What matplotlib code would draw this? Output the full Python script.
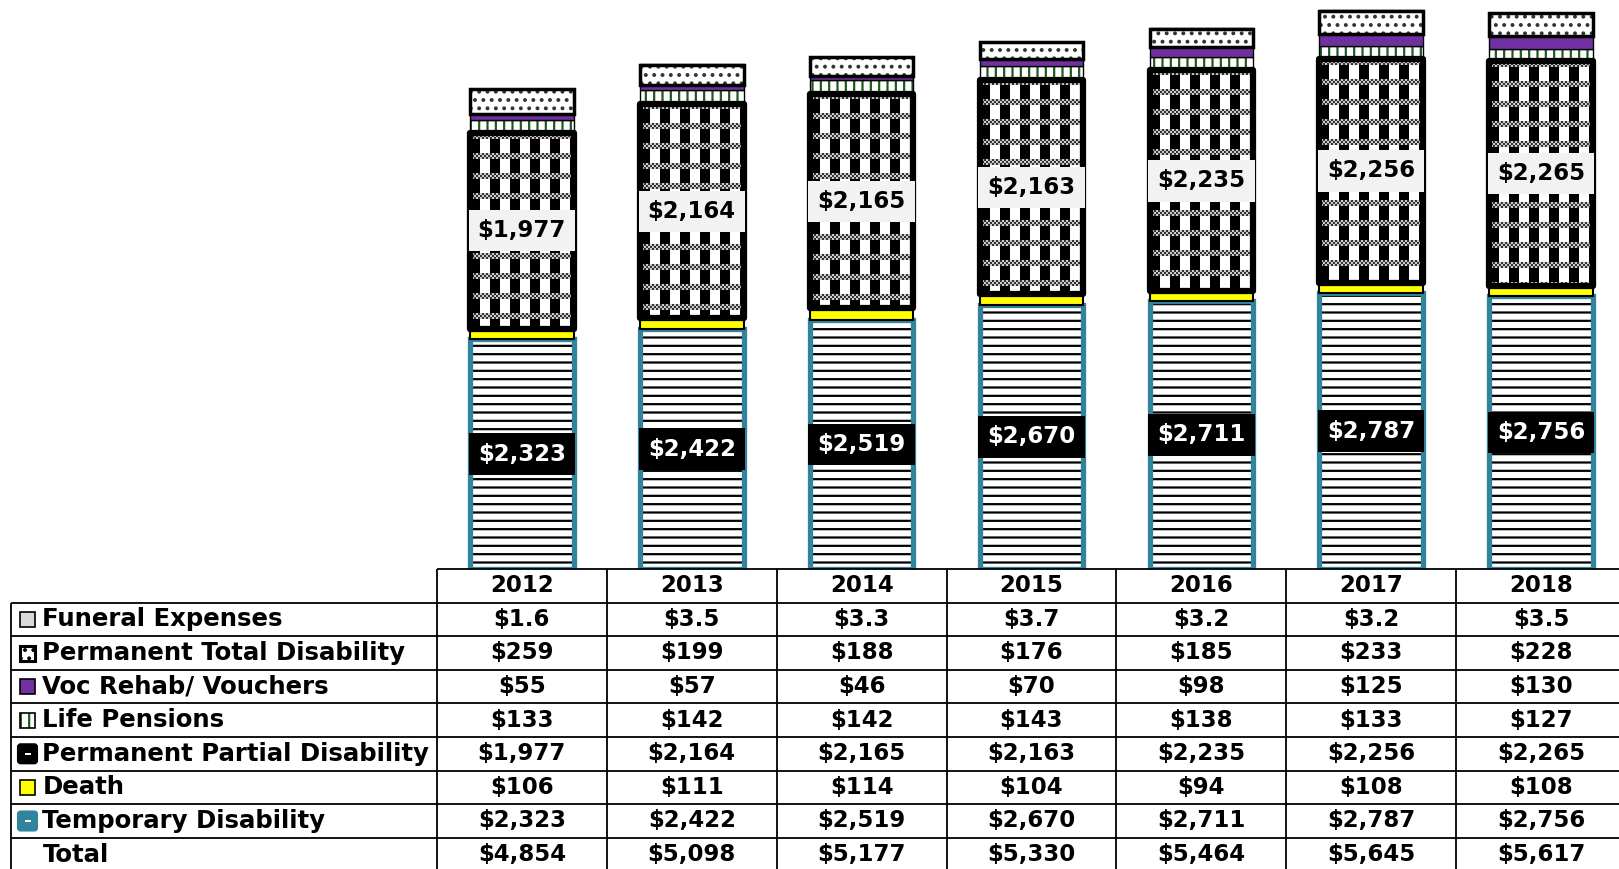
import numpy as np
import matplotlib
matplotlib.use('Agg')
import matplotlib.pyplot as plt
from matplotlib.patches import Rectangle, FancyBboxPatch

years = ['2012', '2013', '2014', '2015', '2016', '2017', '2018']
funeral = [1.6, 3.5, 3.3, 3.7, 3.2, 3.2, 3.5]
ptd = [259, 199, 188, 176, 185, 233, 228]
voc = [55, 57, 46, 70, 98, 125, 130]
life = [133, 142, 142, 143, 138, 133, 127]
ppd = [1977, 2164, 2165, 2163, 2235, 2256, 2265]
death = [106, 111, 114, 104, 94, 108, 108]
temp = [2323, 2422, 2519, 2670, 2711, 2787, 2756]
totals = [4854, 5098, 5177, 5330, 5464, 5645, 5617]

row_names = ['Funeral Expenses', 'Permanent Total Disability', 'Voc Rehab/ Vouchers',
             'Life Pensions', 'Permanent Partial Disability', 'Death',
             'Temporary Disability', 'Total']
row_vals = [funeral, ptd, voc, life, ppd, death, temp, totals]

TEAL = '#31849B'
PURPLE = '#7030A0'
GREEN = '#1F5A1F'

plt.rcParams['font.family'] = ['DejaVu Sans']
plt.rcParams['hatch.linewidth'] = 1.6

W, H = 1619, 869
fig = plt.figure(figsize=(W / 100, H / 100), dpi=100)

left_px, top_tab = 437, 569
col_px = 169.85
ymax = 5750
ax = fig.add_axes([left_px / W, (H - top_tab) / H, 7 * col_px / W, top_tab / H])
ax.set_xlim(-0.5, 6.5)
ax.set_ylim(0, ymax)
ax.axis('off')

x = np.arange(len(years))
bw = 0.61


def segment(vals, bottom, face, edge, lw, hatch=None, hcolor=None):
    if hatch:
        ax.bar(x, vals, bw, bottom=bottom, color=face, edgecolor=hcolor,
               linewidth=0, hatch=hatch, zorder=2)
        ax.bar(x, vals, bw, bottom=bottom, fill=False, edgecolor=edge,
               linewidth=lw, zorder=3)
    else:
        ax.bar(x, vals, bw, bottom=bottom, color=face, edgecolor=edge,
               linewidth=lw, zorder=3)
    return np.array(bottom) + np.array(vals)


# checker texture for Permanent Partial Disability
tile = np.ones((20, 20))
for i in range(6):
    for j in range(20):
        tile[i, j] = 0.2 if ((i // 2 + j // 2) % 2 == 0) else 0.8
tile[6:, 0:10] = 0.0
pxx = col_px
pxy = top_tab / ymax

bottom = np.zeros(len(x))
b_temp = bottom.copy()
bottom = segment(temp, bottom, 'white', TEAL, 3.8, hatch='--', hcolor='black')
bottom = segment(death, bottom, '#FFFF00', 'black', 1.5)
b_ppd = bottom.copy()
faces = ax.bar(x, ppd, bw, bottom=bottom, color='white', linewidth=0, zorder=2)
for r in faces:
    nx = max(int(round(r.get_width() * pxx)), 1)
    ny = max(int(round(r.get_height() * pxy)), 1)
    g = np.tile(tile, (ny // 20 + 1, nx // 20 + 1))[:ny, :nx]
    tex = np.stack([g, g, g], axis=-1)
    im = ax.imshow(tex, extent=(r.get_x(), r.get_x() + r.get_width(),
                                r.get_y(), r.get_y() + r.get_height()),
                   interpolation='nearest', aspect='auto', zorder=2.5)
    im.set_clip_path(r)
ax.bar(x, ppd, bw, bottom=bottom, fill=False, edgecolor='black', linewidth=4.5,
       joinstyle='round', zorder=3)
bottom = bottom + np.array(ppd)
bottom = segment(life, bottom, 'white', 'black', 1.0, hatch='||', hcolor=GREEN)
bottom = segment(voc, bottom, PURPLE, 'black', 1.0)
bottom = segment(ptd, bottom, 'white', 'black', 2.5, hatch='..', hcolor='#333333')
bottom = segment(funeral, bottom, '#D9D9D9', 'black', 1.0)
ax.set_xlim(-0.5, 6.5)
ax.set_ylim(0, ymax)

for i in range(len(x)):
    ax.text(x[i], b_ppd[i] + ppd[i] / 2, f'${ppd[i]:,}', ha='center', va='center',
            fontsize=16.5, fontweight='bold', color='black', zorder=6,
            bbox=dict(boxstyle='square,pad=0.4', fc='#F2F2F2', ec='none'))
    ax.text(x[i], b_temp[i] + temp[i] / 2, f'${temp[i]:,}', ha='center', va='center',
            fontsize=16.5, fontweight='bold', color='white', zorder=6,
            bbox=dict(boxstyle='square,pad=0.4', fc='black', ec='none'))

# data table
tab_left = 11
rowh = 33.6
tx = fig.add_axes([tab_left / W, 0, (left_px - tab_left + 7 * col_px) / W, (H - top_tab) / H])
xmin = -0.5 - (left_px - tab_left) / col_px
tx.set_xlim(xmin, 6.5)
tx.set_ylim(9 - (H - top_tab) / rowh, 9)
tx.axis('off')

lk = dict(color='black', lw=1.3, clip_on=False, solid_capstyle='butt')
tx.plot([-0.5, 6.5], [9, 9], **lk)
for k in range(1, 9):
    tx.plot([xmin, 6.5], [k, k], **lk)
tx.plot([xmin, xmin], [-1, 8], **lk)
for k in range(8):
    tx.plot([k - 0.5, k - 0.5], [-1, 9], **lk)

fs = 16.5
for i, yr in enumerate(years):
    tx.text(i, 8.5, yr, ha='center', va='center', fontsize=fs, fontweight='bold')
for r, (name, vals) in enumerate(zip(row_names, row_vals)):
    yc = 7.5 - r
    tx.text(xmin + 0.185, yc, name, ha='left', va='center', fontsize=17.6, fontweight='bold')
    for i, v in enumerate(vals):
        s = f'${v:.1f}' if name == 'Funeral Expenses' else f'${v:,.0f}'
        tx.text(i, yc, s, ha='center', va='center', fontsize=fs, fontweight='bold')

# legend keys in the table
kw, kh = 15 / col_px, 15 / rowh
kx = xmin + 9 / col_px
kcx = kx + kw / 2
keys = [('#D9D9D9', None, None), ('white', '..', 'black'), (PURPLE, None, None),
        ('white', '||', GREEN), ('ppd', None, None), ('#FFFF00', None, None),
        ('temp', None, None)]
for r, (fc, hatch, hc) in enumerate(keys):
    yc = 7.5 - r
    if fc in ('ppd', 'temp'):
        c = 'black' if fc == 'ppd' else TEAL
        sw, sh = 17 / col_px, 17 / rowh
        tx.add_patch(FancyBboxPatch((kcx - sw / 2, yc - sh / 2), sw, sh,
                                    boxstyle='round,pad=0.008,rounding_size=0.018',
                                    mutation_aspect=col_px / rowh,
                                    fc=c, ec=c, lw=1.0, clip_on=False))
        tx.add_patch(Rectangle((kcx - kw * 0.2, yc - kh * 0.08), kw * 0.4,
                               kh * (0.16 if fc == 'temp' else 0.12),
                               fc='white', ec='none', clip_on=False))
    elif hatch:
        tx.add_patch(Rectangle((kx, yc - kh / 2), kw, kh, fc=fc, ec=hc, hatch=hatch,
                               lw=0, clip_on=False))
        tx.add_patch(Rectangle((kx, yc - kh / 2), kw, kh, fill=False, ec='black',
                               lw=2.2 if hatch == '..' else 1.2, clip_on=False))
    else:
        tx.add_patch(Rectangle((kx, yc - kh / 2), kw, kh, fc=fc, ec='black', lw=1.2,
                               clip_on=False))

fig.savefig('out.png', dpi=100)
